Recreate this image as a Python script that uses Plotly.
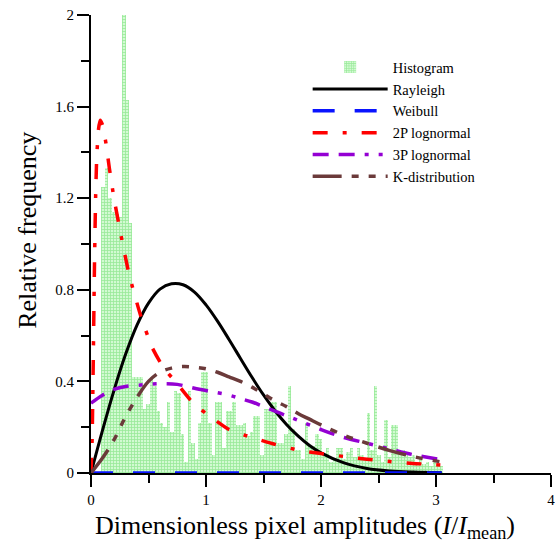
import numpy as np
import plotly.graph_objects as go

# histogram of I/I_mean, bins of 0.03 starting at 0.09
hist_start = 0.09
hist_width = 0.03
hist_vals = [1.25, 1.33, 1.20, 1.14, 1.13, 1.12, 2.00, 1.63, 1.09, 0.42,
             0.42, 0.42, 0.28, 0.30, 0.42, 0.38, 0.27, 0.22, 0.20, 0.31,
             0.18, 0.36, 0.35, 0.17, 0.05, 0.36, 0.13, 0.06, 0.22, 0.44,
             0.44, 0.22, 0.08, 0.31, 0.31, 0.11, 0.27, 0.27, 0.31, 0.21,
             0.21, 0.22, 0.16, 0.18, 0.25, 0.25, 0.08, 0.28, 0.28, 0.31,
             0.31, 0.13, 0.13, 0.17, 0.38, 0.19, 0.10, 0.10, 0.06, 0.22,
             0.12, 0.12, 0.17, 0.15, 0.08, 0.11, 0.05, 0.06, 0.11, 0.11,
             0.06, 0.09, 0.11, 0.07, 0.11, 0.08, 0.06, 0.26, 0.10, 0.38,
             0.08, 0.05, 0.23, 0.07, 0.21, 0.21, 0.09, 0.10, 0.08, 0.07,
             0.08, 0.05, 0.06, 0.04, 0.05, 0.03, 0.05, 0.04, 0.03]
hist_x = hist_start + hist_width * (np.arange(len(hist_vals)) + 0.5)

# fitted curves
ray_x = [0, 0.1, 0.2, 0.3, 0.4, 0.5, 0.6, 0.7, 0.8, 0.9, 1.0, 1.1, 1.2, 1.3,
         1.4, 1.5, 1.6, 1.7, 1.8, 1.9, 2.0, 2.2, 2.4, 2.6, 2.8, 3.05]
ray_y = [0, 0.186, 0.361, 0.517, 0.646, 0.742, 0.803, 0.826, 0.822, 0.79,
         0.734, 0.663, 0.583, 0.50, 0.418, 0.341, 0.272, 0.212, 0.162, 0.12,
         0.088, 0.044, 0.02, 0.009, 0.004, 0.001]

wei_x = [0, 3.05]
wei_y = [0, 0]

ln2_x = [0, 0.01, 0.02, 0.03, 0.04, 0.05, 0.065, 0.08, 0.1, 0.13, 0.16, 0.2,
         0.26, 0.33, 0.43, 0.53, 0.63, 0.75, 0.88, 1.0, 1.2, 1.4, 1.6, 1.8,
         2.0, 2.2, 2.4, 2.6, 2.8, 3.05]
ln2_y = [0, 0.15, 0.5, 0.9, 1.2, 1.38, 1.5, 1.54, 1.52, 1.44, 1.33, 1.2,
         1.04, 0.87, 0.69, 0.55, 0.46, 0.39, 0.31, 0.26, 0.19, 0.155, 0.125,
         0.10, 0.085, 0.072, 0.06, 0.05, 0.042, 0.035]

ln3_x = [0, 0.1, 0.2, 0.3, 0.45, 0.6, 0.75, 0.9, 1.05, 1.2, 1.3, 1.4, 1.5,
         1.6, 1.7, 1.8, 2.0, 2.2, 2.4, 2.6, 2.8, 3.05]
ln3_y = [0.305, 0.34, 0.365, 0.378, 0.385, 0.39, 0.387, 0.37, 0.355, 0.34,
         0.325, 0.31, 0.29, 0.27, 0.25, 0.23, 0.19, 0.155, 0.13, 0.105,
         0.08, 0.058]

kd_x = [0, 0.1, 0.2, 0.3, 0.4, 0.5, 0.6, 0.7, 0.8, 0.9, 1.0, 1.1, 1.2, 1.3,
        1.4, 1.5, 1.6, 1.7, 1.8, 1.9, 2.0, 2.2, 2.4, 2.6, 2.8, 3.05]
kd_y = [0, 0.065, 0.145, 0.245, 0.33, 0.40, 0.44, 0.458, 0.465, 0.462,
        0.455, 0.44, 0.42, 0.40, 0.375, 0.345, 0.315, 0.29, 0.26, 0.235,
        0.21, 0.165, 0.13, 0.098, 0.072, 0.048]

serif = "Liberation Serif"

fig = go.Figure()
fig.add_trace(go.Bar(
    x=hist_x, y=hist_vals, width=hist_width, name="Histogram",
    marker=dict(color="#9cee9c", line_width=0,
                pattern=dict(shape="+", fgcolor="#5fd85f", bgcolor="#d2fad2",
                             size=3, solidity=0.45)),
))
fig.add_trace(go.Scatter(x=ray_x, y=ray_y, mode="lines", name="Rayleigh",
                         line=dict(color="black", width=3, shape="spline")))
fig.add_trace(go.Scatter(x=wei_x, y=wei_y, mode="lines", name="Weibull",
                         line=dict(color="#0a14ff", width=3.5, dash="22px,20px")))
fig.add_trace(go.Scatter(x=ln2_x, y=ln2_y, mode="lines", name="2P lognormal",
                         line=dict(color="#ff0000", width=3.5, shape="spline",
                                   smoothing=0.5,
                                   dash="15px,15px,4px,15px")))
fig.add_trace(go.Scatter(x=ln3_x, y=ln3_y, mode="lines", name="3P lognormal",
                         line=dict(color="#9400d3", width=3.5, shape="spline",
                                   dash="16px,10px,16px,10px,4px,10px,4px,10px")))
fig.add_trace(go.Scatter(x=kd_x, y=kd_y, mode="lines", name="K-distribution",
                         line=dict(color="#6b3a3a", width=3.5, shape="spline",
                                   dash="29px,10px,7px,10px,7px,10px,7px,10px")))

axis_common = dict(
    showline=True, linecolor="black", linewidth=2, mirror=False,
    showgrid=False, zeroline=False, automargin=False,
    ticks="outside", ticklen=12, tickwidth=1.5, tickcolor="black",
    ticklabeloverflow="allow",
    tickfont=dict(family=serif, size=15, color="black"),
)
fig.update_xaxes(range=[0, 4], dtick=1,
                 minor=dict(dtick=0.5, ticks="outside", ticklen=8, tickwidth=1.5,
                            tickcolor="black"),
                 **axis_common)
fig.update_yaxes(range=[0, 2], dtick=0.4,
                 minor=dict(dtick=0.2, ticks="outside", ticklen=8, tickwidth=1.5,
                            tickcolor="black"),
                 **axis_common)

# axis titles (placed like the original, slightly off-centre)
fig.add_annotation(text="Dimensionless pixel amplitudes (<i>I</i>/<i>I</i><sub>mean</sub>)",
                   xref="paper", yref="paper", x=0.465, y=-0.118,
                   xanchor="center", yanchor="middle", showarrow=False,
                   font=dict(family=serif, size=26, color="black"))
fig.add_annotation(text="Relative frequency", textangle=-90,
                   xref="paper", yref="paper", x=-0.137, y=0.531,
                   xanchor="center", yanchor="middle", showarrow=False,
                   font=dict(family=serif, size=26, color="black"))

fig.update_layout(
    width=559, height=546,
    margin=dict(l=91, r=8, t=15, b=73),
    plot_bgcolor="white", paper_bgcolor="white",
    bargap=0,
    showlegend=True,
    legend=dict(x=0.471, y=0.921, xanchor="left", yanchor="top",
                bgcolor="rgba(0,0,0,0)", itemwidth=75,
                font=dict(family=serif, size=14.5, color="black"),
                tracegroupgap=0),
)

# drop the browser's default body margin so the figure fills the window
fig.write_html("out.html", config={"displayModeBar": False},
               post_script="document.body.style.margin='0';document.body.style.overflow='hidden';")
